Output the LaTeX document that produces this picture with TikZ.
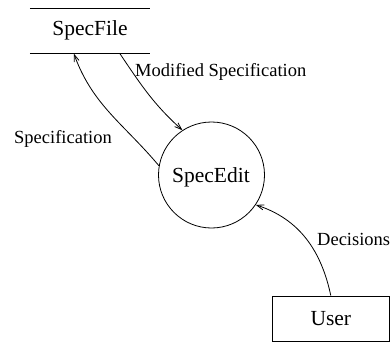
\documentclass[tikz,border=0pt]{standalone}
\usepackage{fontspec}
\setmainfont{Liberation Serif}
\usetikzlibrary{arrows.meta,calc}
\begin{document}
\begin{tikzpicture}[x=1pt,y=-1pt,
  flow/.style={draw, line width=0.8pt, -{Straight Barb[length=7pt,width=5pt,line width=0.8pt]}},
  nodetext/.style={font=\fontsize{21.5}{24}\selectfont, inner sep=0pt},
  lbl/.style={font=\fontsize{18.5}{21}\selectfont, inner sep=0pt, anchor=west},
  outline/.style={line width=0.8pt}]
\useasboundingbox (0,0) rectangle (390,342);

% data store: two horizontal lines
\node[nodetext, minimum width=120pt, minimum height=45pt] (specfile) at (90,30.8) {SpecFile};
\draw[outline] (specfile.north west) -- (specfile.north east);
\draw[outline] (specfile.south west) -- (specfile.south east);

% process
\node[nodetext, draw, outline, circle, minimum size=106pt] (edit) at (211.5,175) {};
\node[nodetext] (edittext) at (211,177) {SpecEdit};

% external entity
\node[nodetext, draw, outline, minimum width=117pt, minimum height=45pt] (user) at (330.8,318.5) {User};

% flows
\coordinate (fin) at ($(specfile.south west)+(44,0)$);
\coordinate (fout) at ($(specfile.south west)+(90,0)$);
\draw[flow] (edit.170) to[out=130, in=-70] (fin);
\draw[flow] (fout) to[out=-56, in=138] (edit.123);
\draw[flow] (user.north) to[out=102, in=-18] (edit.-34);

% labels
\node[lbl] (lmod) at (135,72) {Modified Specification};
\node[lbl] (lspec) at (14,139) {Specification};
\node[lbl] (ldec) at (317,239) {Decisions};
\end{tikzpicture}
\end{document}
